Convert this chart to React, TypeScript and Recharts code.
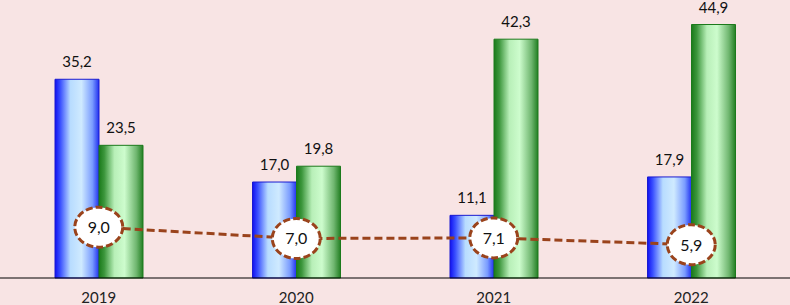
import { ComposedChart, Bar, Line, XAxis, YAxis, LabelList } from 'recharts';

const years = ['2019', '2020', '2021', '2022'];
const blueValues = [35.2, 17.0, 11.1, 17.9];
const greenValues = [23.5, 19.8, 42.3, 44.9];
const ratioValues = [9.0, 7.0, 7.1, 5.9];

const data = years.map((year, i) => ({
  year,
  blue: blueValues[i],
  green: greenValues[i],
  ratio: ratioValues[i],
}));

const fmt = (v: any) => Number(v).toFixed(1).replace('.', ',');

const FONT = 'Lato, "Noto Sans", sans-serif';
const BROWN = '#9a431c';

const EllipseDot = (props: any) => {
  const { cx, cy, value, index } = props;
  if (cx == null || cy == null) return null;
  return (
    <g key={`dot-${index}`}>
      <ellipse
        cx={cx}
        cy={cy}
        rx={24}
        ry={20}
        fill="#ffffff"
        stroke={BROWN}
        strokeWidth={3}
        strokeDasharray="7 3"
      />
      <text
        x={cx}
        y={cy}
        dy={6}
        textAnchor="middle"
        fontFamily={FONT}
        fontSize={16}
        fill="#111"
      >
        {fmt(value)}
      </text>
    </g>
  );
};

const App = () => {
  return (
    <div style={{ position: 'absolute', left: 0, top: 0, width: 790, height: 305, background: '#f8e4e4' }}>
      <ComposedChart
        width={790}
        height={305}
        data={data}
        margin={{ top: 7, right: 0, bottom: 0, left: 0 }}
        barGap={0}
        barSize={44}
      >
        <defs>
          <linearGradient id="blueGrad" x1="0" y1="0" x2="1" y2="0">
            <stop offset="0%" stopColor="#1010f0" />
            <stop offset="12%" stopColor="#3a50ff" />
            <stop offset="35%" stopColor="#b8dcff" />
            <stop offset="60%" stopColor="#cfeaff" />
            <stop offset="85%" stopColor="#7a9cff" />
            <stop offset="100%" stopColor="#2030f0" />
          </linearGradient>
          <linearGradient id="greenGrad" x1="0" y1="0" x2="1" y2="0">
            <stop offset="0%" stopColor="#1a7a1a" />
            <stop offset="12%" stopColor="#3c963c" />
            <stop offset="35%" stopColor="#b8efb8" />
            <stop offset="58%" stopColor="#cdfccd" />
            <stop offset="85%" stopColor="#6fb66f" />
            <stop offset="100%" stopColor="#237f23" />
          </linearGradient>
        </defs>
        <XAxis
          dataKey="year"
          axisLine={{ stroke: '#000', strokeWidth: 1 }}
          tickLine={false}
          tickMargin={8}
          height={27}
          tick={{ fontFamily: FONT, fontSize: 15, fill: '#222' }}
        />
        <YAxis hide domain={[0, 48]} />
        <Bar dataKey="blue" fill="url(#blueGrad)" stroke="#1a1ad0" strokeWidth={1} isAnimationActive={false}>
          <LabelList
            dataKey="blue"
            position="top"
            offset={12}
            formatter={fmt}
            style={{ fontFamily: FONT, fontSize: 15, fill: '#111' }}
          />
        </Bar>
        <Bar dataKey="green" fill="url(#greenGrad)" stroke="#1c7a1c" strokeWidth={1} isAnimationActive={false}>
          <LabelList
            dataKey="green"
            position="top"
            offset={12}
            formatter={fmt}
            style={{ fontFamily: FONT, fontSize: 15, fill: '#111' }}
          />
        </Bar>
        <Line
          type="linear"
          dataKey="ratio"
          stroke={BROWN}
          strokeWidth={3}
          strokeDasharray="8 4"
          dot={EllipseDot}
          activeDot={false}
          isAnimationActive={false}
        />
      </ComposedChart>
    </div>
  );
};

export default App;
